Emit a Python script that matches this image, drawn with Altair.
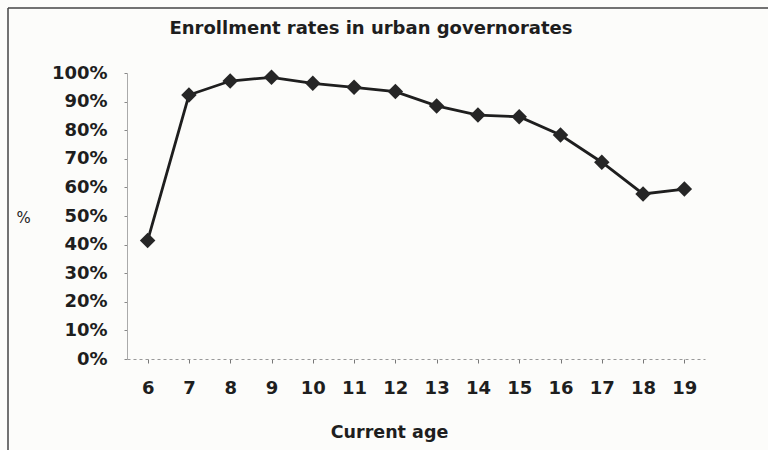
import altair as alt
import pandas as pd

# Enrollment rate (%) by current age, urban governorates
ages = [6, 7, 8, 9, 10, 11, 12, 13, 14, 15, 16, 17, 18, 19]
rates = [41.4, 92.3, 97.2, 98.5, 96.4, 95.0, 93.5, 88.5, 85.3, 84.7, 78.3, 68.8, 57.7, 59.4]
y_ticks = [0, 10, 20, 30, 40, 50, 60, 70, 80, 90, 100]

df = pd.DataFrame({"age": ages, "rate": rates})

FONT = "DejaVu Sans"
INK = "#1e1e1e"

x_enc = alt.X(
    "age:O",
    sort=ages,
    scale=alt.Scale(paddingInner=0, paddingOuter=0),
    axis=alt.Axis(
        title="Current age",
        titleFont=FONT, titleFontSize=17.5, titleFontWeight="bold", titleColor=INK,
        titleX=262, titleY=73, titleAlign="center", titleBaseline="middle",
        labelFont=FONT, labelFontSize=18, labelFontWeight="bold", labelColor=INK,
        labelAngle=0, labelPadding=16,
        tickSize=4, tickColor="#777", tickWidth=1, bandPosition=0,
        domainColor="#999", domainWidth=1, domainDash=[3, 3],
        grid=False,
    ),
)
y_enc = alt.Y(
    "rate:Q",
    scale=alt.Scale(domain=[0, 100], nice=False, zero=True),
    axis=alt.Axis(
        values=y_ticks,
        labelExpr="datum.value + '%'",
        title="%",
        titleFont=FONT, titleFontSize=15, titleFontWeight="normal", titleColor=INK,
        titleAngle=0, titleX=-104, titleY=144, titleAlign="center", titleBaseline="middle",
        labelFont=FONT, labelFontSize=18, labelFontWeight="bold", labelColor=INK,
        labelPadding=17, tickSize=3, tickColor="#888",
        domainColor="#aaa", domainWidth=1,
        grid=False,
    ),
)

line = alt.Chart(df).mark_line(color=INK, strokeWidth=2.8).encode(x=x_enc, y=y_enc)
points = alt.Chart(df).mark_point(
    shape="diamond", filled=True, size=240, color="#262626", opacity=1
).encode(x=x_enc, y=y_enc)

# page frame around the whole figure
frame_src = alt.Data(values=[{}])
frame_top = alt.Chart(frame_src).mark_rule(color="#444", strokeWidth=1.5).encode(
    x=alt.value(-119), x2=alt.value(641), y=alt.value(-65)
)
frame_left = alt.Chart(frame_src).mark_rule(color="#444", strokeWidth=1.5).encode(
    x=alt.value(-119), y=alt.value(-65), y2=alt.value(377)
)

chart = (
    alt.layer(frame_top, frame_left, line, points)
    .properties(
        width=578,
        height=286,
        title=alt.TitleParams(
            "Enrollment rates in urban governorates",
            font=FONT, fontSize=18, fontWeight="bold", color=INK,
            anchor="middle", dx=-45, offset=-31,
        ),
        autosize=alt.AutoSizeParams(type="none"),
        padding={"left": 127, "top": 73, "right": 63, "bottom": 91},
        background="#fcfcfa",
    )
    .configure_view(stroke=None)
)

chart.save("out.html", embed_options={"renderer": "svg", "actions": False})
